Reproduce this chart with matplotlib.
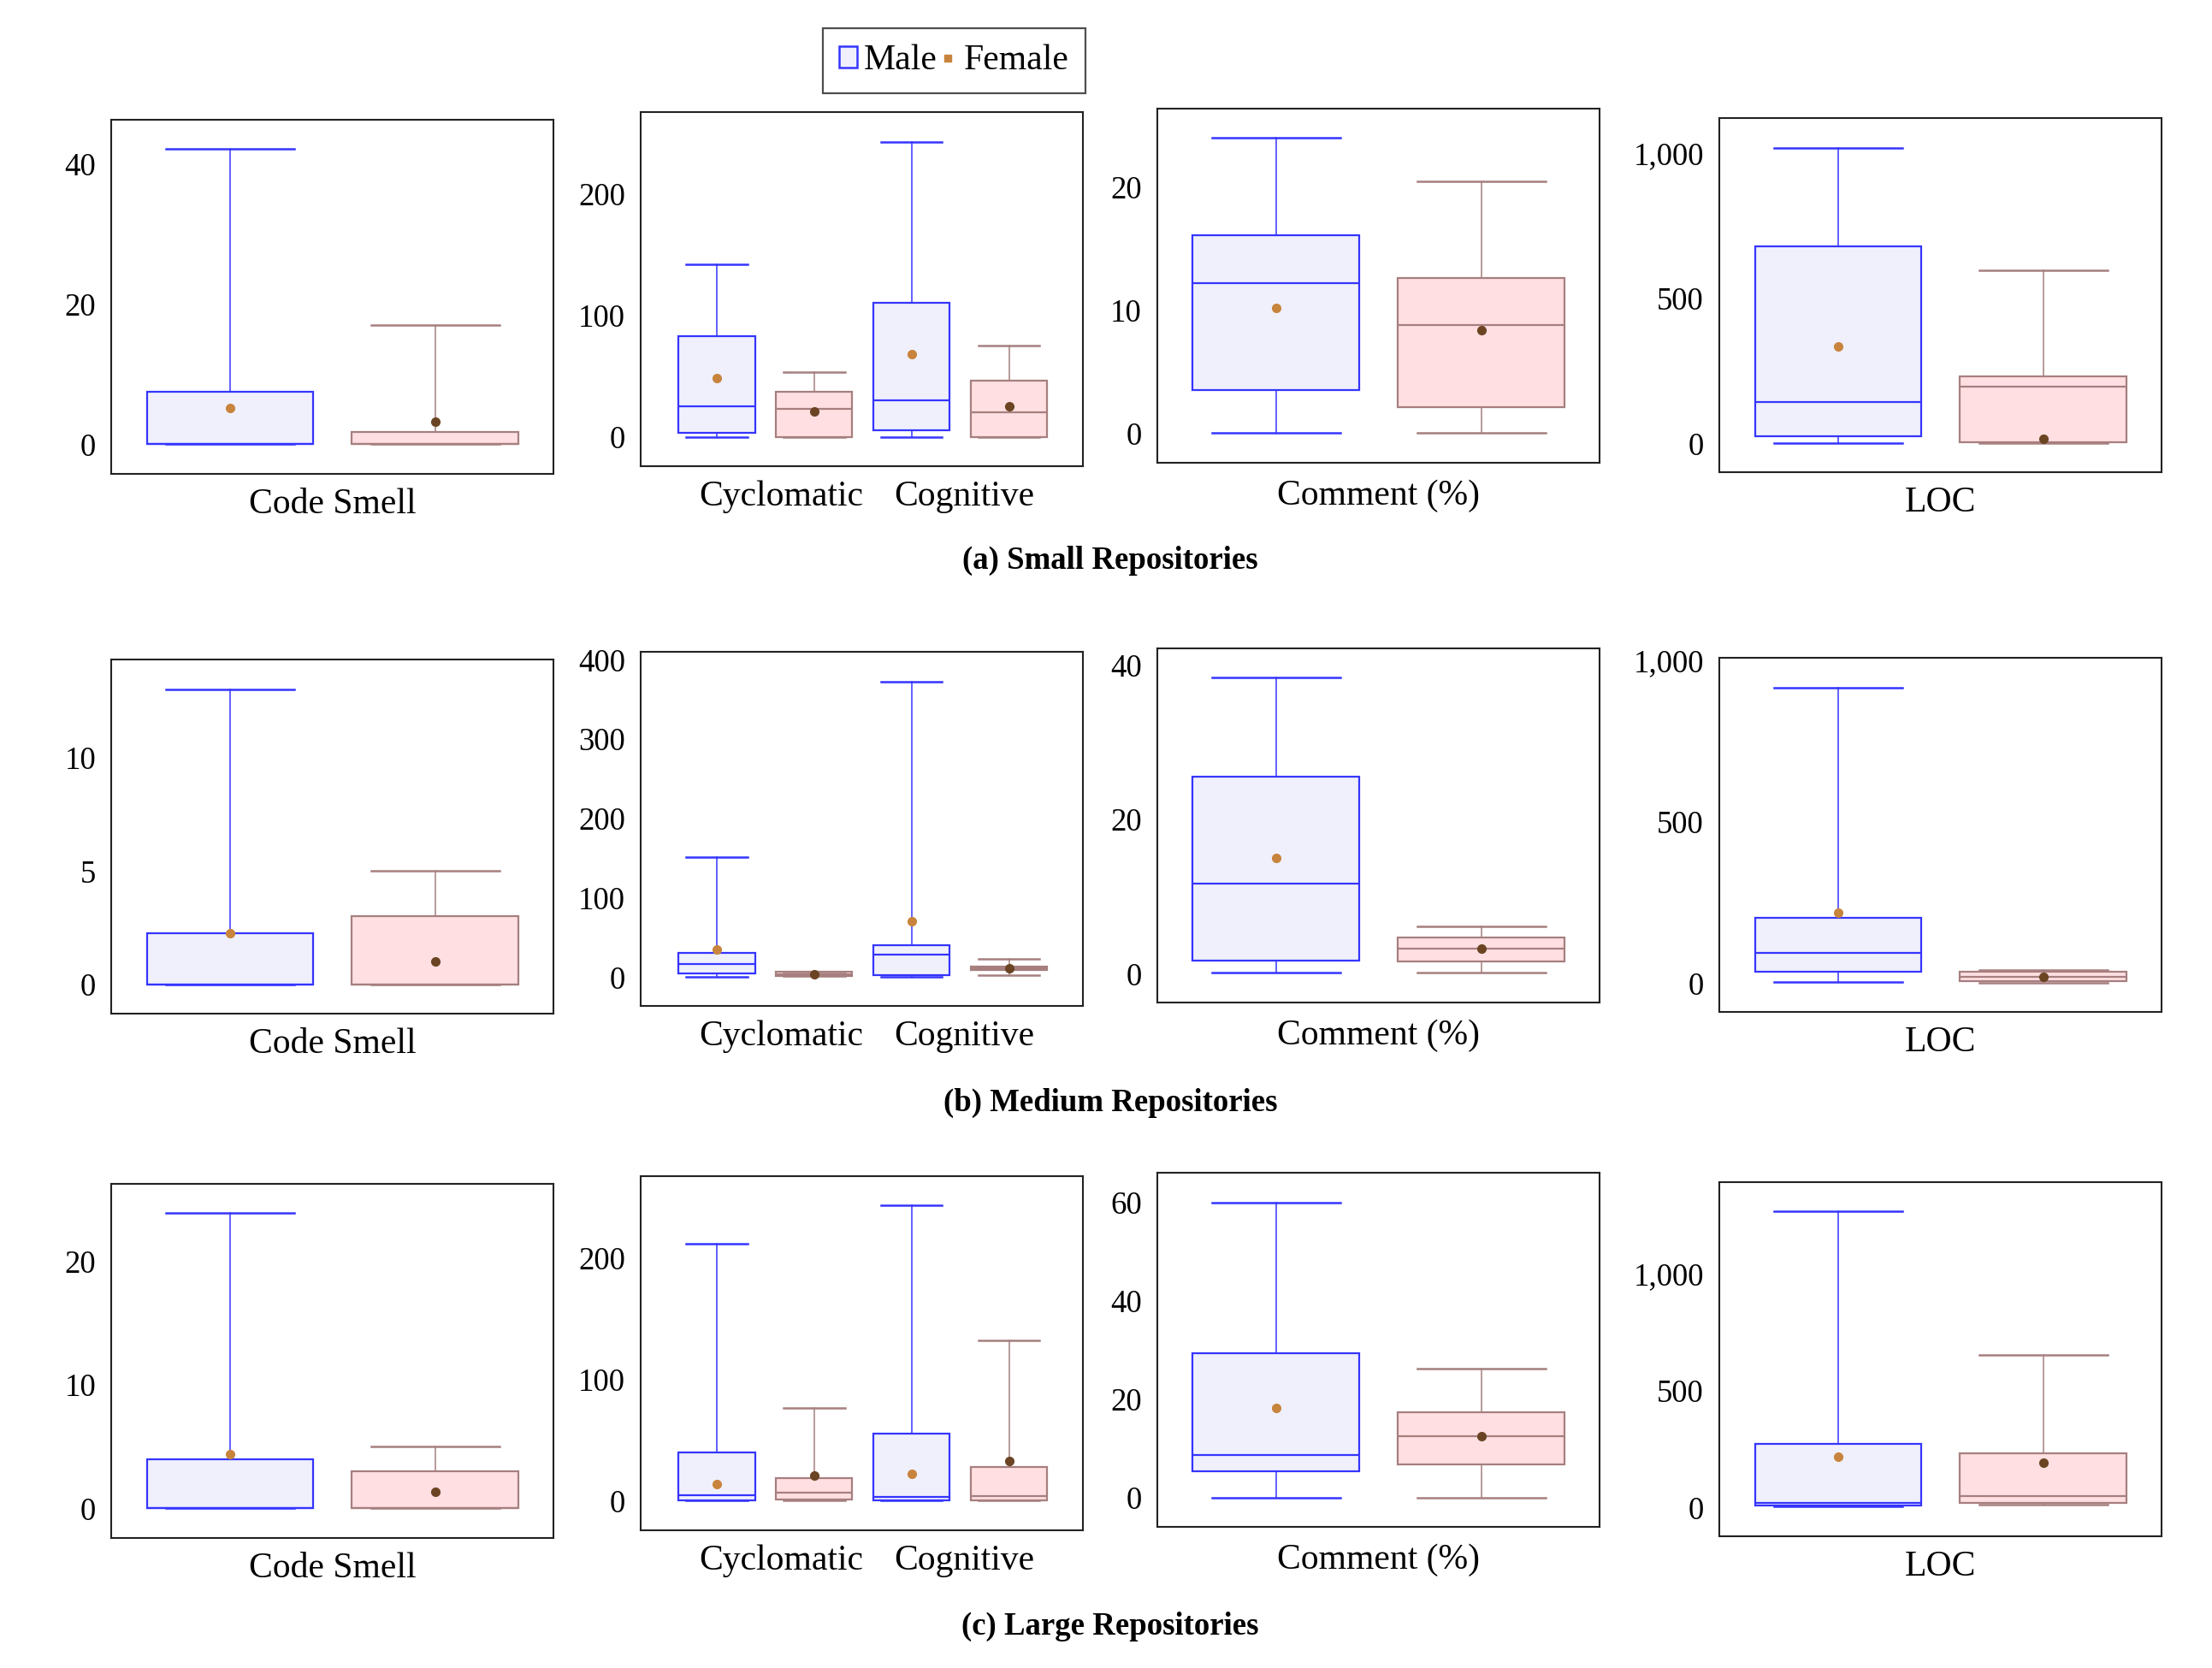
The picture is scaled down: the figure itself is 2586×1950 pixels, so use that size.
import matplotlib
matplotlib.use("Agg")
import matplotlib.pyplot as plt
from matplotlib.patches import Patch
from matplotlib.lines import Line2D
from matplotlib.ticker import FuncFormatter, FixedLocator

# ---------------- data (whislo, q1, med, q3, whishi, mean) ----------------
groups = ["(a) Small Repositories", "(b) Medium Repositories", "(c) Large Repositories"]
metric_labels = [["Code Smell"], ["Cyclomatic", "Cognitive"], ["Comment (%)"], ["LOC"]]

# Small repositories
small_codesmell_male = [0, 0, 0, 7.5, 42.1, 5.2]
small_codesmell_female = [0, 0, 0, 1.75, 17.0, 3.2]
small_cyclomatic_male = [0, 3, 25, 83, 142, 48]
small_cyclomatic_female = [0, 0, 23, 37, 53, 21]
small_cognitive_male = [0, 5, 30, 110, 243, 68]
small_cognitive_female = [0, 0, 20, 46, 75, 25]
small_comment_male = [0, 3.5, 12.2, 16.1, 24.0, 10.2]
small_comment_female = [0, 2.1, 8.8, 12.6, 20.5, 8.4]
small_loc_male = [3, 26, 143, 679, 1018, 333]
small_loc_female = [3, 5, 195, 232, 596, 16]

# Medium repositories
medium_codesmell_male = [0, 0, 0, 2.25, 13.05, 2.25]
medium_codesmell_female = [0, 0, 0, 3.0, 5.0, 1.0]
medium_cyclomatic_male = [0.8, 4.3, 16.2, 30.7, 151, 34.3]
medium_cyclomatic_female = [1.0, 1.1, 4.0, 6.9, 7.0, 3.7]
medium_cognitive_male = [0.8, 2.6, 28.9, 40.5, 373, 70]
medium_cognitive_female = [2.2, 9.0, 11.5, 13.0, 23.1, 11.6]
medium_comment_male = [0.1, 1.7, 11.7, 25.6, 38.4, 15.0]
medium_comment_female = [0.1, 1.6, 3.3, 4.7, 6.2, 3.3]
medium_loc_male = [4.4, 37, 94, 204, 916, 218]
medium_loc_female = [2.7, 7, 20, 35, 40, 19.5]

# Large repositories
large_codesmell_male = [0, 0, 0, 4.0, 23.9, 4.4]
large_codesmell_female = [0, 0, 0, 3.0, 5.0, 1.35]
large_cyclomatic_male = [0, 0.2, 4.7, 40, 212, 13.6]
large_cyclomatic_female = [0, 0.7, 6.4, 18.4, 76.5, 20.5]
large_cognitive_male = [0, 0, 2.8, 55.3, 243.5, 22]
large_cognitive_female = [0, 0, 4, 27.5, 132, 33]
large_comment_male = [0, 5.3, 8.6, 29.4, 60.1, 18.2]
large_comment_female = [0, 6.7, 12.4, 17.3, 26.2, 12.4]
large_loc_male = [6, 12, 24, 274, 1266, 220]
large_loc_female = [15, 21, 51, 235, 654, 193]

yticks = [
    [[0, 20, 40], [0, 100, 200], [0, 10, 20], [0, 500, 1000]],
    [[0, 5, 10], [0, 100, 200, 300, 400], [0, 20, 40], [0, 500, 1000]],
    [[0, 10, 20], [0, 100, 200], [0, 20, 40, 60], [0, 500, 1000]],
]

rows = [
    [[small_codesmell_male, small_codesmell_female],
     [small_cyclomatic_male, small_cyclomatic_female, small_cognitive_male, small_cognitive_female],
     [small_comment_male, small_comment_female],
     [small_loc_male, small_loc_female]],
    [[medium_codesmell_male, medium_codesmell_female],
     [medium_cyclomatic_male, medium_cyclomatic_female, medium_cognitive_male, medium_cognitive_female],
     [medium_comment_male, medium_comment_female],
     [medium_loc_male, medium_loc_female]],
    [[large_codesmell_male, large_codesmell_female],
     [large_cyclomatic_male, large_cyclomatic_female, large_cognitive_male, large_cognitive_female],
     [large_comment_male, large_comment_female],
     [large_loc_male, large_loc_female]],
]

# ---------------- style ----------------
MALE_EDGE = "#3535ff"
MALE_FILL = "#f0f0fc"
MALE_MEAN = "#c8843c"
FEM_EDGE = "#a67f7f"
FEM_FILL = "#ffdfe2"
FEM_MEAN = "#6b4423"

plt.rcParams["font.family"] = ["Liberation Serif", "DejaVu Serif"]

fig = plt.figure(figsize=(25.86, 19.5), dpi=100)

lefts = [0.0503, 0.2896, 0.5232, 0.7773]
bottoms = [
    [0.716, 0.7205, 0.7226, 0.7169],
    [0.3923, 0.3969, 0.399, 0.3933],
    [0.078, 0.0826, 0.0846, 0.079],
]
W, H = 0.2, 0.2123
caption_y = [0.664, 0.339, 0.025]
xpads = [12, 12, 14, 12]


def stat(v):
    return dict(whislo=v[0], q1=v[1], med=v[2], q3=v[3], whishi=v[4], mean=v[5], fliers=[])


for r in range(3):
    for c in range(4):
        ax = fig.add_axes([lefts[c], bottoms[r][c], W, H])
        series = rows[r][c]
        n = len(series)
        if n == 2:
            positions = [0, 1]
            width, capw = 0.81, 0.625
            xlim = (-0.578, 1.578)
            tickpos = [0.5]
        else:
            positions = [0, 1, 2, 3]
            width, capw = 0.786, 0.63
            xlim = (-0.78, 3.76)
            tickpos = [0.66, 2.54]
        for i, (pos, v) in enumerate(zip(positions, series)):
            male = (i % 2 == 0)
            edge = MALE_EDGE if male else FEM_EDGE
            fill = MALE_FILL if male else FEM_FILL
            mcol = MALE_MEAN if male else FEM_MEAN
            ax.bxp([stat(v)], positions=[pos], widths=width, capwidths=capw,
                   patch_artist=True, showmeans=True, showfliers=False,
                   boxprops=dict(facecolor=fill, edgecolor=edge, linewidth=1.6),
                   whiskerprops=dict(color=edge, linewidth=1.1),
                   capprops=dict(color=edge, linewidth=1.8),
                   medianprops=dict(color=edge, linewidth=1.6),
                   meanprops=dict(marker="o", markerfacecolor=mcol, markeredgecolor=mcol,
                                  markersize=7))
        lo = min(min(v[0], v[5]) for v in series)
        hi = max(max(v[4], v[5]) for v in series)
        rng = hi - lo
        ax.set_ylim(lo - 0.1 * rng, hi + 0.1 * rng)
        ax.set_xlim(*xlim)
        ax.yaxis.set_major_locator(FixedLocator(yticks[r][c]))
        ax.yaxis.set_major_formatter(FuncFormatter(lambda x, p: f"{x:,.0f}"))
        ax.set_xticks(tickpos)
        ax.set_xticklabels(metric_labels[c])
        ax.tick_params(axis="y", length=0, pad=13, labelsize=26.5)
        ax.tick_params(axis="x", length=0, pad=xpads[c], labelsize=30)
        for s in ax.spines.values():
            s.set_linewidth(1.5)
            s.set_color("#222222")
    fig.text(0.502, caption_y[r], groups[r], ha="center", va="center",
             fontsize=26.5, fontweight="bold")

handles = [
    Patch(facecolor=MALE_FILL, edgecolor=MALE_EDGE, linewidth=1.8),
    Line2D([], [], linestyle="none", marker="s", markersize=6,
           markerfacecolor=MALE_MEAN, markeredgecolor=MALE_MEAN),
]
leg = fig.legend(handles, ["Male", "Female"], loc="upper left",
                 bbox_to_anchor=(962 / 2586, 1 - 33 / 1950), ncol=2,
                 fontsize=30, frameon=True, fancybox=False, edgecolor="#222222",
                 handlelength=0.5, handleheight=0.55, handletextpad=0.2,
                 columnspacing=0.05, borderpad=0.45, borderaxespad=0)
leg.get_frame().set_linewidth(1.6)

fig.savefig("out.png", dpi=100)
